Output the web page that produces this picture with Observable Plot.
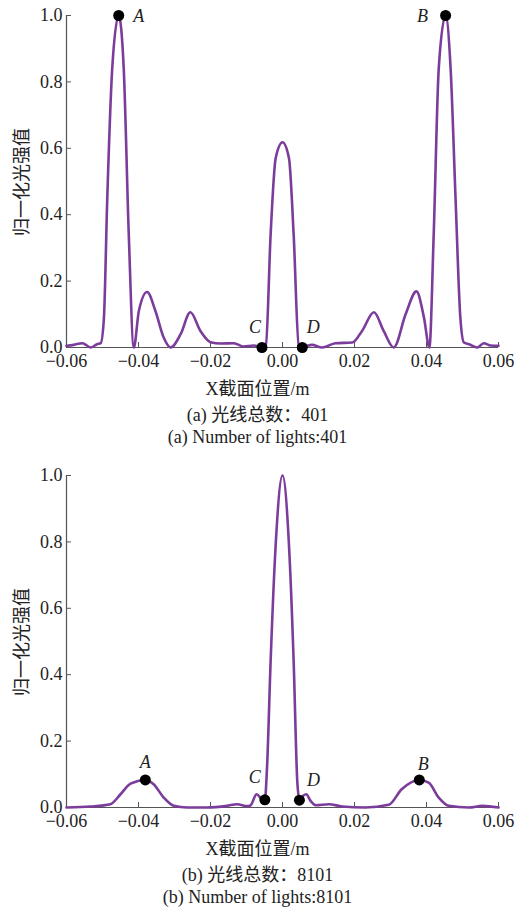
<!DOCTYPE html>
<html><head><meta charset="utf-8">
<script src="https://cdn.jsdelivr.net/npm/d3@7"></script>
<script src="https://cdn.jsdelivr.net/npm/@observablehq/plot@0.6"></script>
<style>
body{margin:0;background:#fff;width:515px;height:910px;overflow:hidden;position:relative;}
.panel{position:absolute;left:0;width:515px;}
.t{position:absolute;left:0;width:515px;text-align:center;font-family:"Liberation Serif","Noto Sans CJK SC",serif;font-size:18px;color:#222;line-height:18px;white-space:nowrap;}
.yl{position:absolute;font-family:"Noto Sans CJK SC",sans-serif;font-size:18px;color:#222;line-height:18px;white-space:nowrap;transform:translate(-50%,-50%) rotate(-90deg);}
</style></head><body>
<div id="p1" class="panel" style="top:0"></div>
<div class="yl" style="left:20px;top:182px">归一化光强值</div>
<div class="t" style="top:380px">X截面位置/m</div>
<div class="t" style="top:406px">(a) 光线总数：401</div>
<div class="t" style="top:428px">(a) Number of lights:401</div>
<div id="p2" class="panel" style="top:460px"></div>
<div class="yl" style="left:20px;top:642px">归一化光强值</div>
<div class="t" style="top:840px">X截面位置/m</div>
<div class="t" style="top:866px">(b) 光线总数：8101</div>
<div class="t" style="top:888px">(b) Number of lights:8101</div>
<script>
const xTicks = [-0.06, -0.04, -0.02, 0.00, 0.02, 0.04, 0.06];
const yTicks = [0.0, 0.2, 0.4, 0.6, 0.8, 1.0];

// (a) 401 rays
const xA = [-0.060, -0.058, -0.0556, -0.0533, -0.0515, -0.0505, -0.0496, -0.0487, -0.0473, -0.0455, -0.0441, -0.0427, -0.0413,
  -0.0399, -0.0376, -0.0353, -0.0330, -0.0311, -0.0283, -0.0256, -0.0228, -0.0200, -0.0172, -0.0135, -0.0108, -0.0080,
  -0.0060, -0.0046, -0.0033, -0.0019, 0.0000, 0.0018, 0.0031, 0.0045, 0.0057, 0.0082, 0.0110, 0.0147, 0.0194, 0.0221,
  0.0254, 0.0281, 0.0309, 0.0342, 0.0372, 0.0393, 0.0408, 0.0420, 0.0434, 0.0453, 0.0467, 0.0481, 0.0494, 0.0504, 0.0518,
  0.0541, 0.0559, 0.0578, 0.0600];
const yA = [0.005, 0.008, 0.013, 0.000, 0.010, 0.013, 0.090, 0.440, 0.840, 1.000, 0.840, 0.340, 0.000,
  0.110, 0.167, 0.110, 0.030, 0.000, 0.040, 0.106, 0.050, 0.016, 0.012, 0.013, 0.003, 0.006,
  0.001, 0.010, 0.340, 0.570, 0.618, 0.570, 0.340, 0.008, 0.002, 0.008, 0.000, 0.013, 0.015, 0.050,
  0.106, 0.050, 0.000, 0.100, 0.169, 0.090, 0.000, 0.340, 0.840, 1.000, 0.840, 0.440, 0.090, 0.015, 0.010,
  0.000, 0.013, 0.006, 0.005];
const ptNamesA = ["A", "B", "C", "D"];
const ptXA = [-0.0455, 0.0453, -0.0057, 0.0055];
const ptYA = [1.0, 1.0, 0.0, 0.0];

// (b) 8101 rays
const xB = [-0.060, -0.0533, -0.0478, -0.0450, -0.0422, -0.0381, -0.0358, -0.0330, -0.0302, -0.0265, -0.0210, -0.0154,
  -0.0126, -0.0098, -0.0089, -0.0072, -0.0058, -0.0049, -0.0043, -0.0033, -0.0019, 0.0000, 0.0018, 0.0031, 0.0041,
  0.0047, 0.0058, 0.0066, 0.0078, 0.0092, 0.0129, 0.0166, 0.0230, 0.0295, 0.0331, 0.0380, 0.0406, 0.0434, 0.0462,
  0.0518, 0.0555, 0.0600];
const yB = [0.000, 0.003, 0.010, 0.040, 0.072, 0.083, 0.070, 0.030, 0.005, 0.000, 0.000, 0.005,
  0.010, 0.004, 0.006, 0.040, 0.026, 0.023, 0.120, 0.440, 0.790, 1.000, 0.790, 0.440, 0.080,
  0.022, 0.036, 0.040, 0.020, 0.007, 0.010, 0.003, 0.000, 0.008, 0.055, 0.083, 0.075, 0.030, 0.005,
  0.000, 0.005, 0.000];
const ptNamesB = ["A", "B", "C", "D"];
const ptXB = [-0.0381, 0.0380, -0.0049, 0.0047];
const ptYB = [0.083, 0.083, 0.023, 0.022];

const lineColor = "#7b3c9c";

function panel(xs, ys, names, px, py, offsets) {
  const data = xs.map((x, i) => ({x, y: ys[i]}));
  const pts = names.map((n, i) => ({name: n, x: px[i], y: py[i]}));
  return Plot.plot({
    width: 515, height: 375,
    marginLeft: 66, marginRight: 17, marginTop: 15, marginBottom: 28,
    x: {domain: [-0.06, 0.06]},
    y: {domain: [0, 1]},
    style: {fontFamily: "'Liberation Serif', serif", fontSize: "18px", color: "#222", background: "#fff", overflow: "visible"},
    marks: [
      Plot.axisX(xTicks, {tickSize: 0, tickPadding: 7, tickFormat: d3.format(".2f"), label: null}),
      Plot.axisX(xTicks, {tickSize: 5, dy: -5, fill: "none", stroke: "#555", label: null}),
      Plot.axisY(yTicks, {tickSize: 0, tickPadding: 4, tickFormat: d3.format(".1f"), label: null}),
      Plot.axisY(yTicks, {tickSize: 5, dx: 5, fill: "none", stroke: "#555", label: null}),
      Plot.ruleY([0], {stroke: "#555", strokeWidth: 1.2}),
      Plot.ruleX([-0.06], {stroke: "#555", strokeWidth: 1.2}),
      Plot.line(data, {x: "x", y: "y", stroke: lineColor, strokeWidth: 2.6, curve: "monotone-x"}),
      Plot.dot(pts, {x: "x", y: "y", r: 5.5, fill: "black"}),
      ...pts.map((p, i) => Plot.text([p], {x: "x", y: "y", text: "name", dx: offsets[i][0], dy: offsets[i][1],
        fontStyle: "italic", fontSize: 18, fill: "#222"}))
    ]
  });
}

document.getElementById("p1").appendChild(panel(xA, yA, ptNamesA, ptXA, ptYA, [[20, 1], [-23, 1], [-7, -20], [11, -20]]));
document.getElementById("p2").appendChild(panel(xB, yB, ptNamesB, ptXB, ptYB, [[0, -18], [4, -16], [-10, -23], [14, -20]]));
</script>
</body></html>
